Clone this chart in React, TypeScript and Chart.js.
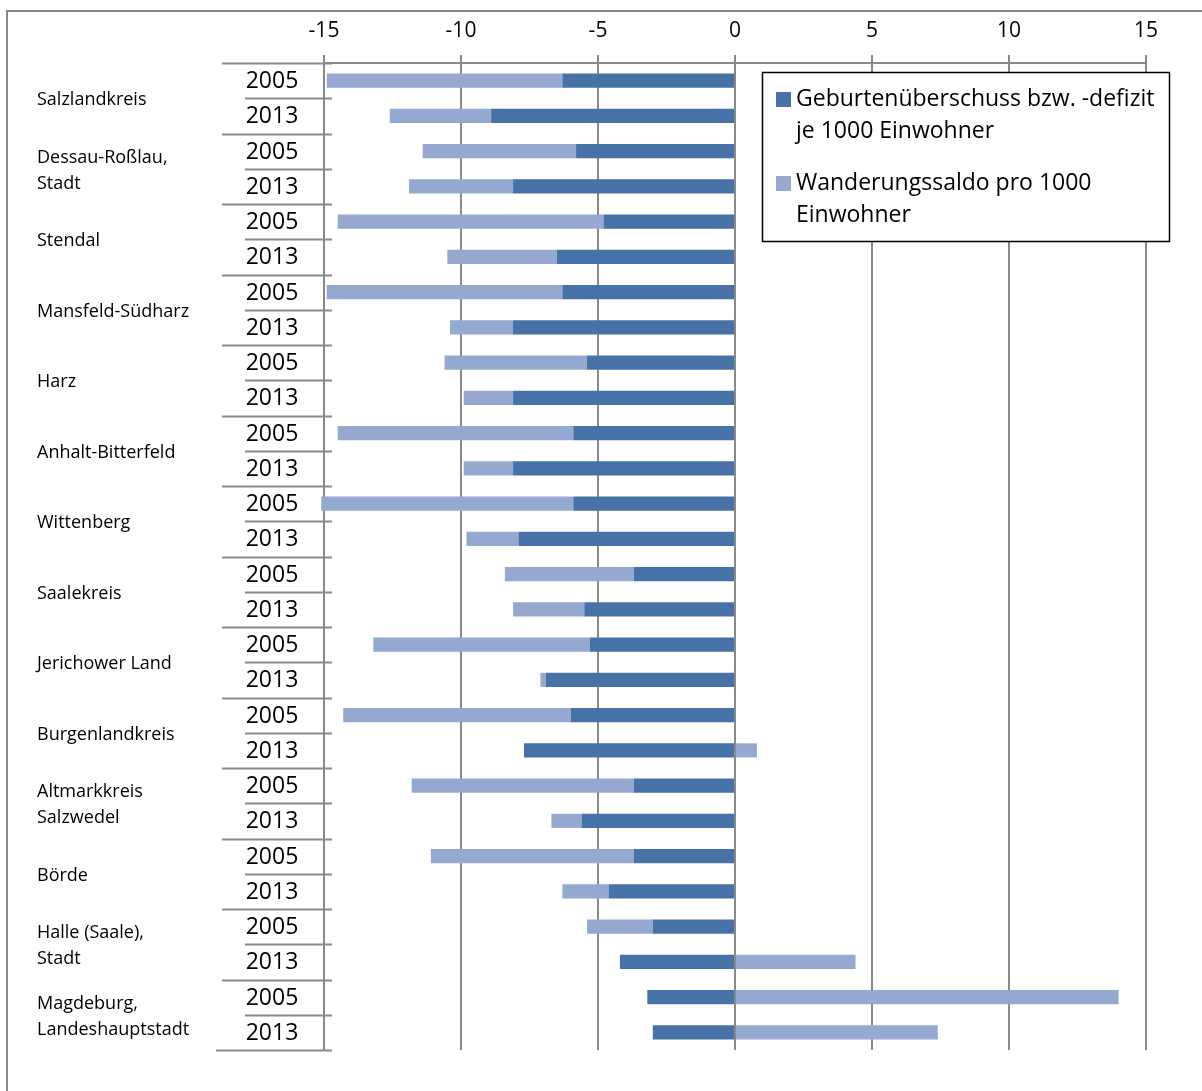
import React, { useEffect, useRef } from "react";
import { Chart, registerables } from "chart.js";

Chart.register(...registerables);

const groupLabels: string[][] = [
  ["Salzlandkreis"],
  ["Dessau-Roßlau,", "Stadt"],
  ["Stendal"],
  ["Mansfeld-Südharz"],
  ["Harz"],
  ["Anhalt-Bitterfeld"],
  ["Wittenberg"],
  ["Saalekreis"],
  ["Jerichower Land"],
  ["Burgenlandkreis"],
  ["Altmarkkreis", "Salzwedel"],
  ["Börde"],
  ["Halle (Saale),", "Stadt"],
  ["Magdeburg,", "Landeshauptstadt"],
];

const years = ["2005", "2013"];

// Geburtenüberschuss bzw. -defizit je 1000 Einwohner (row order: group × year)
const naturalBalance = [
  -6.3, -8.9,
  -5.8, -8.1,
  -4.8, -6.5,
  -6.3, -8.1,
  -5.4, -8.1,
  -5.9, -8.1,
  -5.9, -7.9,
  -3.7, -5.5,
  -5.3, -6.9,
  -6.0, -7.7,
  -3.7, -5.6,
  -3.7, -4.6,
  -3.0, -4.2,
  -3.2, -3.0,
];

// Wanderungssaldo pro 1000 Einwohner
const migrationBalance = [
  -8.6, -3.7,
  -5.6, -3.8,
  -9.7, -4.0,
  -8.6, -2.3,
  -5.2, -1.8,
  -8.6, -1.8,
  -9.2, -1.9,
  -4.7, -2.6,
  -7.9, -0.2,
  -8.3, 0.8,
  -8.1, -1.1,
  -7.4, -1.7,
  -2.4, 4.4,
  14.0, 7.4,
];

const seriesNames = [
  ["Geburtenüberschuss bzw. -defizit", "je 1000 Einwohner"],
  ["Wanderungssaldo pro 1000", "Einwohner"],
];

const xTicks = [-15, -10, -5, 0, 5, 10, 15];

const DARK = "#4672a8";
const LIGHT = "#95a9d0";
const GRID = "#898989";
const FONT = "'Open Sans', 'DejaVu Sans', sans-serif";

const rowLabels: string[] = [];
groupLabels.forEach((g) => years.forEach((y) => rowLabels.push(g.join(" ") + " " + y)));

const decorPlugin = {
  id: "decor",
  afterDraw(chart: any) {
    const ctx = chart.ctx as CanvasRenderingContext2D;
    const ys = chart.scales.y;
    const area = chart.chartArea;
    const n = rowLabels.length;
    const pitch = ys.getPixelForValue(1) - ys.getPixelForValue(0);
    ctx.save();

    // outer frame
    ctx.strokeStyle = GRID;
    ctx.lineWidth = 2;
    ctx.beginPath();
    ctx.moveTo(7, 1100);
    ctx.lineTo(7, 11);
    ctx.lineTo(1210, 11);
    ctx.stroke();

    // category separators
    ctx.lineWidth = 2;
    ctx.strokeStyle = GRID;
    for (let i = 0; i <= n; i++) {
      const yb = i < n ? ys.getPixelForValue(i) - pitch / 2 : ys.getPixelForValue(n - 1) + pitch / 2;
      let x0 = i % 2 === 0 ? 222 : 245;
      if (i === n) x0 = 216;
      ctx.beginPath();
      ctx.moveTo(x0, Math.round(yb) + 0.5);
      ctx.lineTo(area.left + 8, Math.round(yb) + 0.5);
      ctx.stroke();
    }

    // year labels
    ctx.fillStyle = "#000";
    ctx.textBaseline = "middle";
    ctx.textAlign = "center";
    ctx.font = `23px ${FONT}`;
    for (let i = 0; i < n; i++) {
      ctx.fillText(years[i % years.length], 272, ys.getPixelForValue(i) + 1);
    }

    // group labels
    ctx.textAlign = "left";
    ctx.font = `18px ${FONT}`;
    const lh = 26;
    groupLabels.forEach((lines, g) => {
      const c = (ys.getPixelForValue(g * 2) + ys.getPixelForValue(g * 2 + 1)) / 2 + 2;
      lines.forEach((t, k) => {
        const yy = c - ((lines.length - 1) * lh) / 2 + k * lh;
        ctx.fillText(t, 37, yy);
      });
    });

    // legend
    const lx = 762, ly = 72, lw = 407, lhgt = 169;
    ctx.fillStyle = "#fff";
    ctx.fillRect(lx, ly, lw, lhgt);
    ctx.strokeStyle = "#000";
    ctx.lineWidth = 1.5;
    ctx.strokeRect(lx + 0.5, ly + 0.5, lw, lhgt);
    ctx.font = `23px ${FONT}`;
    ctx.textAlign = "left";
    const ds = chart.data.datasets;
    const itemTops = [99, 183];
    ds.forEach((d: any, idx: number) => {
      const cy = itemTops[idx];
      ctx.fillStyle = d.backgroundColor;
      ctx.fillRect(776, cy - 7, 15, 15);
      ctx.fillStyle = "#000";
      seriesNames[idx].forEach((t, k) => {
        ctx.fillText(t, 796, cy + k * 32.5);
      });
    });

    ctx.restore();
  },
};

export default function App() {
  const ref = useRef<HTMLCanvasElement | null>(null);

  useEffect(() => {
    if (!ref.current) return;
    const chart = new Chart(ref.current, {
      type: "bar",
      data: {
        labels: rowLabels,
        datasets: [
          {
            label: seriesNames[0].join(" "),
            data: naturalBalance,
            backgroundColor: DARK,
            barPercentage: 0.4,
            categoryPercentage: 1,
            clip: false as any,
          },
          {
            label: seriesNames[1].join(" "),
            data: migrationBalance,
            backgroundColor: LIGHT,
            barPercentage: 0.4,
            categoryPercentage: 1,
            clip: false as any,
          },
        ],
      },
      options: {
        indexAxis: "y",
        responsive: false,
        animation: false,
        devicePixelRatio: 1,
        layout: { padding: { top: 0, left: 0, right: 56, bottom: 41 } },
        plugins: {
          legend: { display: false },
          tooltip: { enabled: false },
          title: { display: false },
        },
        scales: {
          x: {
            position: "top",
            stacked: true,
            min: -15,
            max: 15,
            afterBuildTicks: (s: any) => {
              s.ticks = xTicks.map((v) => ({ value: v }));
            },
            afterFit: (s: any) => {
              s.height = 63;
            },
            ticks: {
              color: "#000",
              font: { family: FONT, size: 21 },
              padding: 11,
            },
            grid: { color: GRID, lineWidth: 2, tickLength: 8, drawTicks: true },
            border: { display: true, color: GRID, width: 2 },
          },
          y: {
            stacked: true,
            afterFit: (s: any) => {
              s.width = 324;
            },
            ticks: { display: false },
            grid: { display: false },
            border: { display: true, color: GRID, width: 2 },
          },
        },
      },
      plugins: [decorPlugin],
    });
    return () => chart.destroy();
  }, []);

  return (
    <div style={{ position: "absolute", left: 0, top: 0, width: 1202, height: 1091, background: "#fff" }}>
      <canvas ref={ref} width={1202} height={1091} style={{ display: "block" }} />
    </div>
  );
}
